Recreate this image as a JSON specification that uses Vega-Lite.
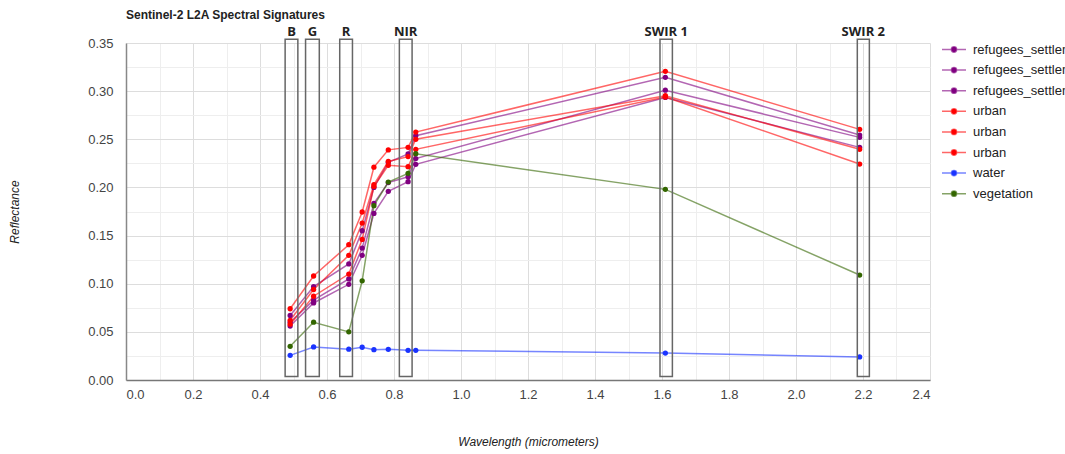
{
  "$schema": "https://vega.github.io/schema/vega-lite/v6.json",
  "autosize": "none",
  "width": 804,
  "height": 337,
  "padding": {"left": 126, "top": 43, "right": 135, "bottom": 74},
  "background": "white",
  "config": {
    "view": {"stroke": null},
    "font": "Liberation Sans"
  },
  "title": {
    "text": "Sentinel-2 L2A Spectral Signatures",
    "anchor": "start",
    "frame": "group",
    "font": "Liberation Sans",
    "fontSize": 12,
    "fontWeight": "bold",
    "color": "#222222",
    "baseline": "alphabetic",
    "offset": -5
  },
  "datasets": {
    "bands": [
      {"band": "B", "x1": 0.475, "x2": 0.513, "xc": 0.494, "y1": 0.0037, "y2": 0.354},
      {"band": "G", "x1": 0.536, "x2": 0.577, "xc": 0.5565, "y1": 0.0037, "y2": 0.354},
      {"band": "R", "x1": 0.638, "x2": 0.676, "xc": 0.657, "y1": 0.0037, "y2": 0.354},
      {"band": "NIR", "x1": 0.816, "x2": 0.854, "xc": 0.835, "y1": 0.0037, "y2": 0.354},
      {"band": "SWIR 1", "x1": 1.594, "x2": 1.631, "xc": 1.6125, "y1": 0.0037, "y2": 0.354},
      {"band": "SWIR 2", "x1": 2.183, "x2": 2.219, "xc": 2.201, "y1": 0.0037, "y2": 0.354}
    ],
    "spectra": [
      {"s": "refugees_settlements_1", "wl": 0.49, "r": 0.067},
      {"s": "refugees_settlements_1", "wl": 0.56, "r": 0.097},
      {"s": "refugees_settlements_1", "wl": 0.665, "r": 0.1205},
      {"s": "refugees_settlements_1", "wl": 0.705, "r": 0.155},
      {"s": "refugees_settlements_1", "wl": 0.74, "r": 0.2},
      {"s": "refugees_settlements_1", "wl": 0.783, "r": 0.226},
      {"s": "refugees_settlements_1", "wl": 0.842, "r": 0.2347},
      {"s": "refugees_settlements_1", "wl": 0.865, "r": 0.2537},
      {"s": "refugees_settlements_1", "wl": 1.61, "r": 0.3143},
      {"s": "refugees_settlements_1", "wl": 2.19, "r": 0.2544},

      {"s": "refugees_settlements_2", "wl": 0.49, "r": 0.06},
      {"s": "refugees_settlements_2", "wl": 0.56, "r": 0.083},
      {"s": "refugees_settlements_2", "wl": 0.665, "r": 0.105},
      {"s": "refugees_settlements_2", "wl": 0.705, "r": 0.137},
      {"s": "refugees_settlements_2", "wl": 0.74, "r": 0.1835},
      {"s": "refugees_settlements_2", "wl": 0.783, "r": 0.205},
      {"s": "refugees_settlements_2", "wl": 0.842, "r": 0.211},
      {"s": "refugees_settlements_2", "wl": 0.865, "r": 0.23},
      {"s": "refugees_settlements_2", "wl": 1.61, "r": 0.301},
      {"s": "refugees_settlements_2", "wl": 2.19, "r": 0.252},

      {"s": "refugees_settlements_3", "wl": 0.49, "r": 0.056},
      {"s": "refugees_settlements_3", "wl": 0.56, "r": 0.08},
      {"s": "refugees_settlements_3", "wl": 0.665, "r": 0.0994},
      {"s": "refugees_settlements_3", "wl": 0.705, "r": 0.1295},
      {"s": "refugees_settlements_3", "wl": 0.74, "r": 0.173},
      {"s": "refugees_settlements_3", "wl": 0.783, "r": 0.196},
      {"s": "refugees_settlements_3", "wl": 0.842, "r": 0.206},
      {"s": "refugees_settlements_3", "wl": 0.865, "r": 0.224},
      {"s": "refugees_settlements_3", "wl": 1.61, "r": 0.2935},
      {"s": "refugees_settlements_3", "wl": 2.19, "r": 0.2416},

      {"s": "urban_1", "wl": 0.49, "r": 0.074},
      {"s": "urban_1", "wl": 0.56, "r": 0.108},
      {"s": "urban_1", "wl": 0.665, "r": 0.1405},
      {"s": "urban_1", "wl": 0.705, "r": 0.1745},
      {"s": "urban_1", "wl": 0.74, "r": 0.221},
      {"s": "urban_1", "wl": 0.783, "r": 0.239},
      {"s": "urban_1", "wl": 0.842, "r": 0.2416},
      {"s": "urban_1", "wl": 0.865, "r": 0.2575},
      {"s": "urban_1", "wl": 1.61, "r": 0.3206},
      {"s": "urban_1", "wl": 2.19, "r": 0.2603},

      {"s": "urban_2", "wl": 0.49, "r": 0.062},
      {"s": "urban_2", "wl": 0.56, "r": 0.094},
      {"s": "urban_2", "wl": 0.665, "r": 0.1295},
      {"s": "urban_2", "wl": 0.705, "r": 0.163},
      {"s": "urban_2", "wl": 0.74, "r": 0.203},
      {"s": "urban_2", "wl": 0.783, "r": 0.227},
      {"s": "urban_2", "wl": 0.842, "r": 0.232},
      {"s": "urban_2", "wl": 0.865, "r": 0.25},
      {"s": "urban_2", "wl": 1.61, "r": 0.2952},
      {"s": "urban_2", "wl": 2.19, "r": 0.2396},

      {"s": "urban_3", "wl": 0.49, "r": 0.058},
      {"s": "urban_3", "wl": 0.56, "r": 0.087},
      {"s": "urban_3", "wl": 0.665, "r": 0.11},
      {"s": "urban_3", "wl": 0.705, "r": 0.146},
      {"s": "urban_3", "wl": 0.74, "r": 0.201},
      {"s": "urban_3", "wl": 0.783, "r": 0.223},
      {"s": "urban_3", "wl": 0.842, "r": 0.2215},
      {"s": "urban_3", "wl": 0.865, "r": 0.2396},
      {"s": "urban_3", "wl": 1.61, "r": 0.294},
      {"s": "urban_3", "wl": 2.19, "r": 0.2243},

      {"s": "water", "wl": 0.49, "r": 0.0256},
      {"s": "water", "wl": 0.56, "r": 0.0343},
      {"s": "water", "wl": 0.665, "r": 0.032},
      {"s": "water", "wl": 0.705, "r": 0.034},
      {"s": "water", "wl": 0.74, "r": 0.0315},
      {"s": "water", "wl": 0.783, "r": 0.0319},
      {"s": "water", "wl": 0.842, "r": 0.0308},
      {"s": "water", "wl": 0.865, "r": 0.0308},
      {"s": "water", "wl": 1.61, "r": 0.028},
      {"s": "water", "wl": 2.19, "r": 0.024},

      {"s": "vegetation", "wl": 0.49, "r": 0.035},
      {"s": "vegetation", "wl": 0.56, "r": 0.06},
      {"s": "vegetation", "wl": 0.665, "r": 0.05},
      {"s": "vegetation", "wl": 0.705, "r": 0.103},
      {"s": "vegetation", "wl": 0.74, "r": 0.181},
      {"s": "vegetation", "wl": 0.783, "r": 0.2056},
      {"s": "vegetation", "wl": 0.842, "r": 0.2146},
      {"s": "vegetation", "wl": 0.865, "r": 0.235},
      {"s": "vegetation", "wl": 1.61, "r": 0.198},
      {"s": "vegetation", "wl": 2.19, "r": 0.109}
    ]
  },
  "resolve": {"axis": {"x": "independent", "y": "independent"}},
  "layer": [
    {
      "data": {"name": "spectra"},
      "mark": {"type": "line", "strokeWidth": 1.5, "opacity": 0.6},
      "encoding": {
        "x": {
          "field": "wl", "type": "quantitative",
          "scale": {"domain": [0, 2.4], "nice": false, "zero": false},
          "axis": {"orient": "top", "values": [0.1, 0.3, 0.5, 0.7, 0.9, 1.1, 1.3, 1.5, 1.7, 1.9, 2.1, 2.3], "grid": true, "gridColor": "#eeeeee", "gridWidth": 1, "labels": false, "ticks": false, "domain": false, "title": null}
        },
        "y": {
          "field": "r", "type": "quantitative",
          "scale": {"domain": [0, 0.35], "nice": false},
          "axis": {"orient": "right", "values": [0.025, 0.075, 0.125, 0.175, 0.225, 0.275, 0.325], "grid": true, "gridColor": "#eeeeee", "gridWidth": 1, "labels": false, "ticks": false, "domain": false, "title": null}
        },
        "color": {"field": "s", "type": "nominal"},
        "detail": {"field": "s"}
      }
    },
    {
      "data": {"name": "spectra"},
      "mark": {"type": "point", "filled": true, "size": 28, "opacity": 1},
      "encoding": {
        "x": {
          "field": "wl", "type": "quantitative",
          "axis": {
            "values": [0, 0.2, 0.4, 0.6, 0.8, 1.0, 1.2, 1.4, 1.6, 1.8, 2.0, 2.2, 2.4],
            "format": ".1f",
            "grid": true, "gridColor": "#dddddd", "gridWidth": 1,
            "ticks": false,
            "domain": true, "domainColor": "#777777", "domainWidth": 1.5,
            "labelFont": "Liberation Sans", "labelFontSize": 13, "labelColor": "#444444", "labelPadding": 8,
            "title": "Wavelength (micrometers)",
            "titleFont": "Liberation Sans", "titleFontSize": 12, "titleFontStyle": "italic", "titleFontWeight": "normal", "titleColor": "#222222", "titlePadding": 35
          }
        },
        "y": {
          "field": "r", "type": "quantitative",
          "axis": {
            "values": [0, 0.05, 0.1, 0.15, 0.2, 0.25, 0.3, 0.35],
            "format": ".2f",
            "grid": true, "gridColor": "#dddddd", "gridWidth": 1,
            "ticks": false,
            "domain": true, "domainColor": "#888888", "domainWidth": 1.5,
            "labelFont": "Liberation Sans", "labelFontSize": 13, "labelColor": "#444444", "labelPadding": 13,
            "title": "Reflectance",
            "titleFont": "Liberation Sans", "titleFontSize": 12, "titleFontStyle": "italic", "titleFontWeight": "normal", "titleColor": "#222222", "titlePadding": 66
          }
        },
        "color": {
          "field": "s", "type": "nominal",
          "scale": {
            "domain": ["refugees_settlements_1", "refugees_settlements_2", "refugees_settlements_3", "urban_1", "urban_2", "urban_3", "water", "vegetation"],
            "range": ["#800080", "#800080", "#800080", "#ff0000", "#ff0000", "#ff0000", "#1a33ff", "#336600"]
          },
          "legend": {
            "orient": "none",
            "legendX": 815,
            "legendY": -6.5,
            "title": null,
            "padding": 0,
            "symbolType": "M-1,0L1,0M-0.22,0A0.22,0.22 0 1,0 0.22,0A0.22,0.22 0 1,0 -0.22,0Z",
            "symbolSize": 576,
            "symbolStrokeWidth": 1.5,
            "symbolOpacity": 1,
            "labelFont": "Liberation Sans",
            "labelFontSize": 13,
            "labelColor": "#222222",
            "labelOffset": 6,
            "labelLimit": 400,
            "rowPadding": 0.6,
            "labelExpr": "replace(datum.label, regexp('_[0-9]$'), '')",
            "encode": {
              "symbols": {
                "update": {
                  "fill": {"scale": "color", "field": "value"},
                  "stroke": {"scale": "color", "field": "value"},
                  "strokeOpacity": {"value": 0.6}
                }
              }
            }
          }
        }
      }
    },
    {
      "data": {"name": "bands"},
      "mark": {"type": "rect", "fill": null, "fillOpacity": 0, "stroke": "#666666", "strokeWidth": 1.5},
      "encoding": {
        "x": {"field": "x1", "type": "quantitative", "axis": null},
        "x2": {"field": "x2"},
        "y": {"field": "y1", "type": "quantitative", "axis": null},
        "y2": {"field": "y2"}
      }
    },
    {
      "data": {"name": "bands"},
      "mark": {"type": "text", "font": "Open Sans", "fontWeight": "bold", "fontSize": 13, "color": "#222222", "baseline": "alphabetic", "dy": -3},
      "encoding": {
        "x": {"field": "xc", "type": "quantitative", "axis": null},
        "y": {"field": "y2", "type": "quantitative", "axis": null},
        "text": {"field": "band"}
      }
    }
  ]
}
